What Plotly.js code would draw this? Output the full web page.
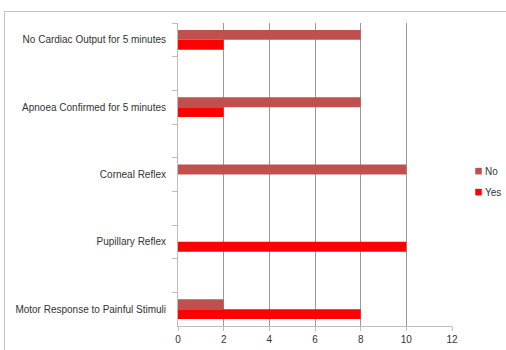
<!DOCTYPE html>
<html>
<head>
<meta charset="utf-8">
<script src="https://cdn.plot.ly/plotly-3.0.1.min.js"></script>
<style>
html,body{margin:0;padding:0;background:#fff;overflow:hidden;}
#frame{position:absolute;left:4px;top:11px;width:520px;height:360px;border:1px solid #c4c4c4;box-sizing:border-box;}
#chart{position:absolute;left:0;top:0;width:506px;height:350px;}
</style>
</head>
<body>
<div id="frame"></div>
<div id="chart"></div>
<script>
// Categories top-to-bottom (blank spacer categories between labelled ones)
const categories = [
  "No Cardiac Output for 5 minutes", " ",
  "Apnoea Confirmed for 5 minutes", "  ",
  "Corneal Reflex", "   ",
  "Pupillary Reflex", "    ",
  "Motor Response to Painful Stimuli"
];
const noValues  = [8, null, 8, null, 10, null, 0, null, 2];
const yesValues = [2, null, 2, null, 0, null, 10, null, 8];
const xTicks = [0, 2, 4, 6, 8, 10, 12];
const seriesNames = ["No", "Yes"];
const seriesColors = ["#C0504D", "#FF0000"];

const font = {family: "Liberation Sans, Arial, sans-serif", size: 10, color: "#333"};

const data = [
  {type: "bar", orientation: "h", name: seriesNames[0], y: categories, x: noValues,
   marker: {color: seriesColors[0]}, hoverinfo: "none"},
  {type: "bar", orientation: "h", name: seriesNames[1], y: categories, x: yesValues,
   marker: {color: seriesColors[1]}, hoverinfo: "none"}
];

// plot area geometry in px (for the hand-drawn legend)
const L = 177.5, R = 54.3, T = 22.7, B = 24, W = 506, H = 350;
const pw = W - L - R, ph = H - T - B;
const px = v => (v - L) / pw;
const py = v => 1 - (v - T) / ph;

const shapes = [], annotations = [];
const legendY = [171, 192];
seriesNames.forEach((n, i) => {
  shapes.push({type: "rect", xref: "paper", yref: "paper",
    x0: px(475), x1: px(481.5), y0: py(legendY[i] - 3.3), y1: py(legendY[i] + 3.3),
    fillcolor: seriesColors[i], line: {width: 0}});
  annotations.push({xref: "paper", yref: "paper", x: px(482.5), y: py(legendY[i]),
    xanchor: "left", yanchor: "middle", text: n, showarrow: false,
    font: {family: font.family, size: 10, color: "#333"}});
});

const layout = {
  width: W, height: H,
  margin: {l: L, r: R, t: T, b: B},
  paper_bgcolor: "rgba(0,0,0,0)", plot_bgcolor: "rgba(0,0,0,0)",
  font: font,
  barmode: "group", bargap: 0.41, bargroupgap: 0,
  showlegend: false,
  shapes: shapes, annotations: annotations,
  xaxis: {range: [0, 12], tickvals: xTicks, ticktext: xTicks.map(String),
          showgrid: true, gridcolor: "#9a9a9a", gridwidth: 1,
          showline: true, linecolor: "#bdbdbd", linewidth: 1,
          ticks: "outside", ticklen: 4, tickcolor: "#bdbdbd",
          zeroline: false, fixedrange: true, tickfont: font, automargin: false},
  yaxis: {type: "category", categoryorder: "array", categoryarray: categories,
          autorange: "reversed", tickson: "boundaries",
          ticks: "outside", ticklen: 5, tickcolor: "#bdbdbd",
          showline: true, linecolor: "#bdbdbd", linewidth: 1,
          showgrid: false, zeroline: false, fixedrange: true,
          ticklabelstandoff: 9, tickfont: font, automargin: false}
};

Plotly.newPlot("chart", data, layout, {displayModeBar: false, staticPlot: true});
</script>
</body>
</html>
